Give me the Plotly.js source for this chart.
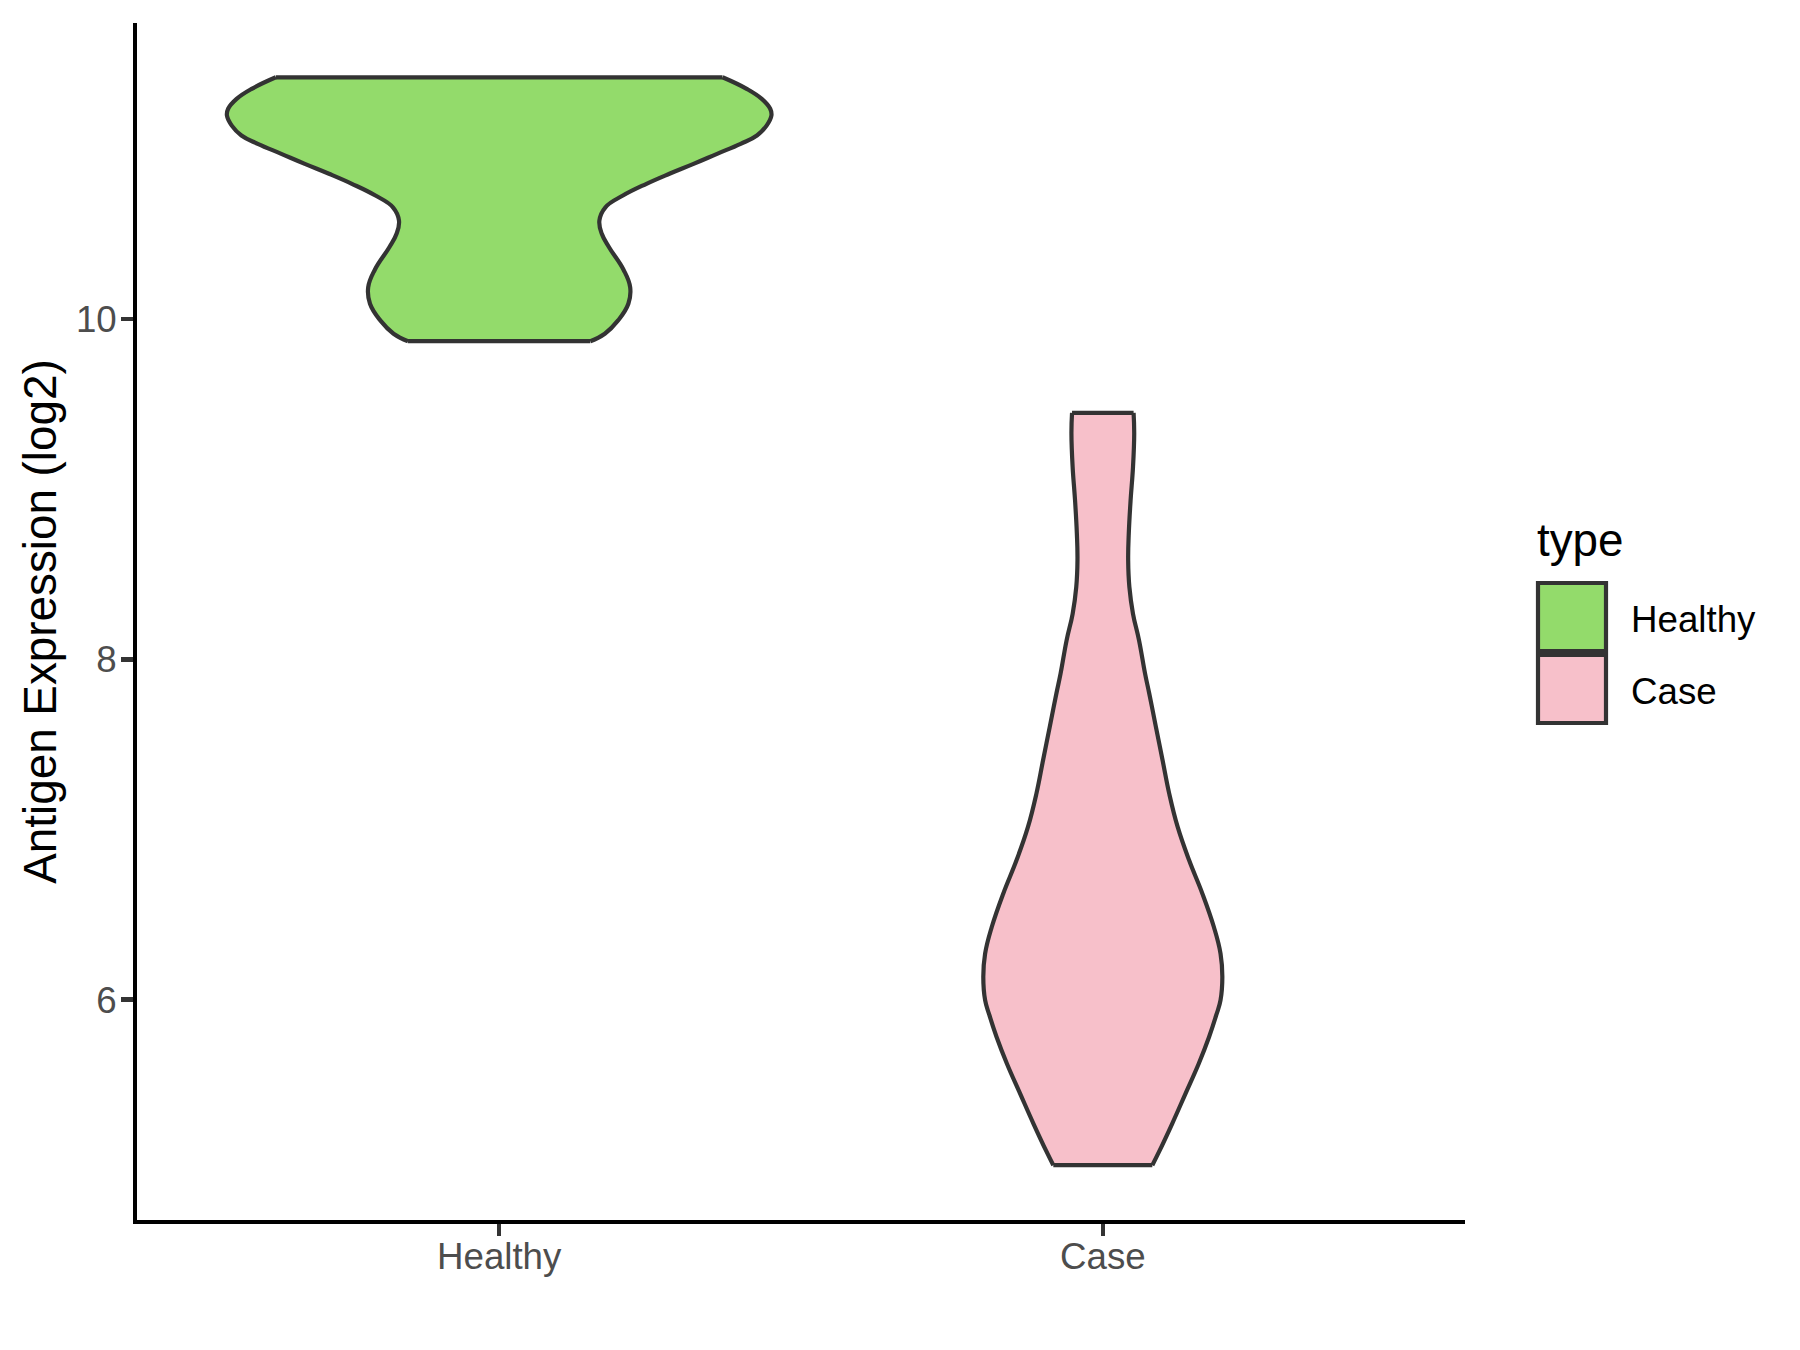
<!DOCTYPE html>
<html>
<head>
<meta charset="utf-8">
<script src="https://cdn.plot.ly/plotly-3.0.1.min.js"></script>
<style>html,body{margin:0;padding:0;background:#ffffff;}</style>
</head>
<body>
<div id="chart" style="width:1800px;height:1350px;"></div>
<script>
// ---- data ----
const categories = ['Healthy', 'Case'];
const categoryPositions = [1, 2];
const fillColors = ['#93DB6B', '#F7C0CA'];
const outlineColor = '#333333';

// violin outline: expression level (log2) and half-width (in category units)
const healthyLevels = [11.421, 11.353, 11.294, 11.236, 11.196, 11.137, 11.079, 11.030, 10.971, 10.912, 10.854, 10.795, 10.726, 10.657, 10.579, 10.501, 10.422, 10.290, 10.187, 10.090, 9.992, 9.914, 9.870];
const healthyHalfWidth = [0.370, 0.410, 0.435, 0.449, 0.451, 0.443, 0.427, 0.400, 0.361, 0.322, 0.282, 0.244, 0.205, 0.176, 0.166, 0.170, 0.182, 0.206, 0.217, 0.214, 0.197, 0.175, 0.151];

const caseLevels = [9.449, 9.326, 9.130, 8.934, 8.739, 8.582, 8.425, 8.268, 8.112, 7.916, 7.798, 7.602, 7.407, 7.211, 7.015, 6.819, 6.623, 6.427, 6.271, 6.133, 5.997, 5.910, 5.781, 5.625, 5.448, 5.272, 5.105, 5.027];
const caseHalfWidth = [0.051, 0.052, 0.050, 0.046, 0.043, 0.042, 0.044, 0.050, 0.060, 0.070, 0.077, 0.088, 0.099, 0.110, 0.124, 0.143, 0.165, 0.184, 0.195, 0.198, 0.195, 0.188, 0.176, 0.159, 0.137, 0.115, 0.093, 0.082];

const yTickValues = [6, 8, 10];
const yTickLabels = ['6', '8', '10'];
const yTitle = 'Antigen Expression (log2)';
const legendTitle = 'type';

// ---- build ----
const levelSets = [healthyLevels, caseLevels];
const widthSets = [healthyHalfWidth, caseHalfWidth];
const LW = 4.2;
const SMOOTH = 1.2;

const fillTraces = [];
const lineTraces = [];
categories.forEach((name, k) => {
  const c = categoryPositions[k];
  const lv = levelSets[k], hw = widthSets[k];
  const left = hw.map(w => c - w);
  const right = hw.map(w => c + w);
  const n = lv.length;
  fillTraces.push({
    type: 'scatter', mode: 'lines', x: left, y: lv,
    line: {width: 0, shape: 'spline', smoothing: SMOOTH, simplify: false}, hoverinfo: 'skip', showlegend: false
  });
  fillTraces.push({
    type: 'scatter', mode: 'lines', name: name, x: right, y: lv,
    fill: 'tonextx', fillcolor: fillColors[k],
    line: {width: 0, shape: 'spline', smoothing: SMOOTH, simplify: false}, hoverinfo: 'skip', showlegend: false
  });
  lineTraces.push({
    type: 'scatter', mode: 'lines', x: left, y: lv,
    line: {color: outlineColor, width: LW, shape: 'spline', smoothing: SMOOTH, simplify: false}, hoverinfo: 'skip', showlegend: false
  });
  lineTraces.push({
    type: 'scatter', mode: 'lines', x: right, y: lv,
    line: {color: outlineColor, width: LW, shape: 'spline', smoothing: SMOOTH, simplify: false}, hoverinfo: 'skip', showlegend: false
  });
  lineTraces.push({
    type: 'scatter', mode: 'lines', connectgaps: false,
    x: [left[0], right[0], null, left[n - 1], right[n - 1]],
    y: [lv[0], lv[0], null, lv[n - 1], lv[n - 1]],
    line: {color: outlineColor, width: LW}, hoverinfo: 'skip', showlegend: false
  });
});
const traces = fillTraces.concat(lineTraces);

const W = 1800, H = 1350;
const mL = 137, mR = 335, mT = 23, mB = 130;
const pw = W - mL - mR, ph = H - mT - mB;
const px = v => (v - mL) / pw;
const py = v => (H - mB - v) / ph;

const FONT = 'Liberation Sans, Arial, Helvetica, sans-serif';
const shapes = [];
const annotations = [];
// legend (keys + labels from categories/fillColors)
annotations.push({
  xref: 'paper', yref: 'paper', x: px(1535), y: py(540), xanchor: 'left', yanchor: 'middle',
  text: legendTitle, showarrow: false, font: {family: FONT, size: 45.8, color: '#000000'}
});
categories.forEach((name, k) => {
  const cy = 617 + 72 * k;
  shapes.push({
    type: 'rect', xref: 'paper', yref: 'paper',
    x0: px(1538), x1: px(1606), y0: py(cy + 34), y1: py(cy - 34),
    fillcolor: fillColors[k], line: {color: outlineColor, width: LW}
  });
  annotations.push({
    xref: 'paper', yref: 'paper', x: px(1629), y: py(cy + 2), xanchor: 'left', yanchor: 'middle',
    text: name, showarrow: false, font: {family: FONT, size: 36.7, color: '#000000'}
  });
});

const layout = {
  width: W, height: H,
  margin: {l: mL, r: mR, t: mT, b: mB, pad: 0},
  paper_bgcolor: '#ffffff', plot_bgcolor: '#ffffff',
  font: {family: FONT, color: '#000000'},
  showlegend: false,
  xaxis: {
    range: [0.4, 2.6], tickvals: categoryPositions, ticktext: categories,
    showline: true, linecolor: '#000000', linewidth: 4.4,
    ticks: 'outside', ticklen: 11.5, tickwidth: 4.4, tickcolor: '#333333',
    tickfont: {family: FONT, size: 36.7, color: '#4D4D4D'},
    ticklabelstandoff: -11,
    showgrid: false, zeroline: false, fixedrange: true
  },
  yaxis: {
    range: [4.705, 11.74], tickvals: yTickValues, ticktext: yTickLabels,
    showline: true, linecolor: '#000000', linewidth: 4.4,
    ticks: 'outside', ticklen: 11.5, tickwidth: 4.4, tickcolor: '#333333',
    tickfont: {family: FONT, size: 36.7, color: '#4D4D4D'},
    ticklabelstandoff: -3,
    showgrid: false, zeroline: false, fixedrange: true,
    title: {text: yTitle, font: {family: FONT, size: 45.8, color: '#000000'}, standoff: 6}
  },
  shapes: shapes,
  annotations: annotations
};

Plotly.newPlot('chart', traces, layout, {staticPlot: true, displayModeBar: false});
</script>
</body>
</html>
